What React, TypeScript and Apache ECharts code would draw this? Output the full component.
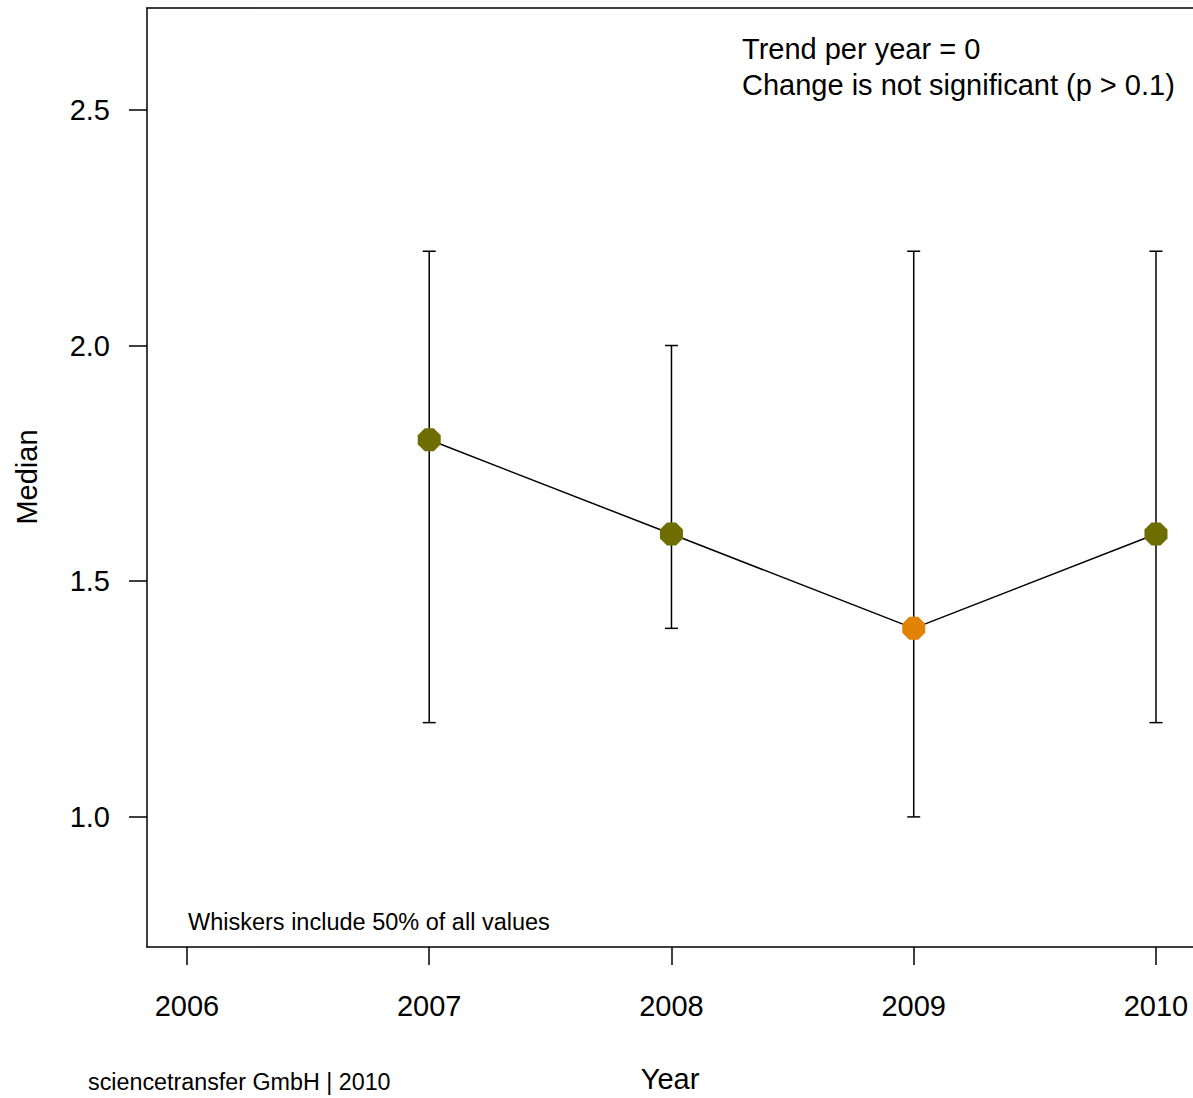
import React, { useEffect, useRef } from "react";
import * as echarts from "echarts";

const years = [2007, 2008, 2009, 2010];
const medians = [1.8, 1.6, 1.4, 1.6];
const lows = [1.2, 1.4, 1.0, 1.2];
const highs = [2.2, 2.0, 2.2, 2.2];
const pointColors = ["#6e6e00", "#6e6e00", "#e08306", "#6e6e00"];
const xTicks = [2006, 2007, 2008, 2009, 2010];
const yTicks = [1.0, 1.5, 2.0, 2.5];
const trendLines = ["Trend per year = 0", "Change is not significant (p > 0.1)"];
const whiskerNote = "Whiskers include 50% of all values";
const footer = "sciencetransfer GmbH | 2010";

const FONT = "Liberation Sans, Arial, Helvetica, sans-serif";
const GRID_W = 1046;
const X_MIN = 2005.835;
const X_MAX = X_MIN + GRID_W / 242.25;

export default function App() {
  const ref = useRef<HTMLDivElement>(null);
  useEffect(() => {
    if (!ref.current) return;
    const chart = echarts.init(ref.current, null, { renderer: "svg" });
    const octagon = "path://M7,0 L16,0 L23,7 L23,16 L16,23 L7,23 L0,16 L0,7 Z";
    const axisLineStyle = { color: "#000", width: 1.5 };
    chart.setOption({
      animation: false,
      backgroundColor: "#ffffff",
      grid: {
        left: 147,
        top: 8,
        width: GRID_W,
        height: 939,
        show: false,
        containLabel: false,
      },
      xAxis: [
        {
          type: "value",
          min: X_MIN,
          max: X_MAX,
          splitLine: { show: false },
          axisLine: { show: true, lineStyle: axisLineStyle },
          axisTick: {
            show: true,
            inside: false,
            length: 18,
            customValues: xTicks,
            lineStyle: axisLineStyle,
          },
          axisLabel: {
            show: true,
            customValues: xTicks,
            margin: 44,
            fontSize: 29,
            fontFamily: FONT,
            color: "#000",
            formatter: (v: number) => String(Math.round(v)),
          },
        },
        {
          type: "value",
          position: "top",
          min: X_MIN,
          max: X_MAX,
          splitLine: { show: false },
          axisLine: { show: true, lineStyle: axisLineStyle },
          axisTick: { show: false },
          axisLabel: { show: false },
        },
      ],
      yAxis: {
        type: "value",
        min: 0.724,
        max: 2.716,
        splitLine: { show: false },
        axisLine: { show: true, lineStyle: axisLineStyle },
        axisTick: {
          show: true,
          inside: false,
          length: 18,
          customValues: yTicks,
          lineStyle: axisLineStyle,
        },
        axisLabel: {
          show: true,
          customValues: yTicks,
          margin: 37,
          fontSize: 29,
          fontFamily: FONT,
          color: "#000",
          formatter: (v: number) => v.toFixed(1),
        },
      },
      series: [
        {
          type: "custom",
          z: 1,
          xAxisIndex: 0,
          data: years.map((y, i) => [y, lows[i], highs[i]]),
          renderItem: (params: any, api: any) => {
            const x = api.value(0);
            const lo = api.coord([x, api.value(1)]);
            const hi = api.coord([x, api.value(2)]);
            const hw = 6.5;
            const st = { stroke: "#000", lineWidth: 1.5 };
            return {
              type: "group",
              children: [
                { type: "line", shape: { x1: lo[0], y1: lo[1], x2: hi[0], y2: hi[1] }, style: st },
                { type: "line", shape: { x1: lo[0] - hw, y1: lo[1], x2: lo[0] + hw, y2: lo[1] }, style: st },
                { type: "line", shape: { x1: hi[0] - hw, y1: hi[1], x2: hi[0] + hw, y2: hi[1] }, style: st },
              ],
            };
          },
        },
        {
          type: "line",
          z: 2,
          xAxisIndex: 0,
          data: years.map((y, i) => ({
            value: [y, medians[i]],
            itemStyle: { color: pointColors[i] },
          })),
          lineStyle: { color: "#000", width: 1.5 },
          symbol: octagon,
          symbolSize: 23,
          showSymbol: true,
          itemStyle: { borderWidth: 0 },
        },
      ],
      graphic: [
        {
          type: "text",
          x: 742,
          y: 49,
          style: { text: trendLines[0], font: `29px ${FONT}`, fill: "#000", verticalAlign: "middle" },
        },
        {
          type: "text",
          x: 742,
          y: 85,
          style: { text: trendLines[1], font: `29px ${FONT}`, fill: "#000", verticalAlign: "middle" },
        },
        {
          type: "text",
          x: 188,
          y: 922,
          style: { text: whiskerNote, font: `23.5px ${FONT}`, fill: "#000", verticalAlign: "middle" },
        },
        {
          type: "text",
          x: 88,
          y: 1082,
          style: { text: footer, font: `23.3px ${FONT}`, fill: "#000", verticalAlign: "middle" },
        },
        {
          type: "text",
          x: 670,
          y: 1079,
          style: { text: "Year", font: `29px ${FONT}`, fill: "#000", align: "center", verticalAlign: "middle" },
        },
        {
          type: "text",
          x: 27,
          y: 477,
          rotation: Math.PI / 2,
          style: { text: "Median", font: `29px ${FONT}`, fill: "#000", align: "center", verticalAlign: "middle" },
        },
      ],
    });
    return () => chart.dispose();
  }, []);
  return (
    <div
      ref={ref}
      style={{ position: "absolute", left: 0, top: 0, width: 1193, height: 1098 }}
    />
  );
}
